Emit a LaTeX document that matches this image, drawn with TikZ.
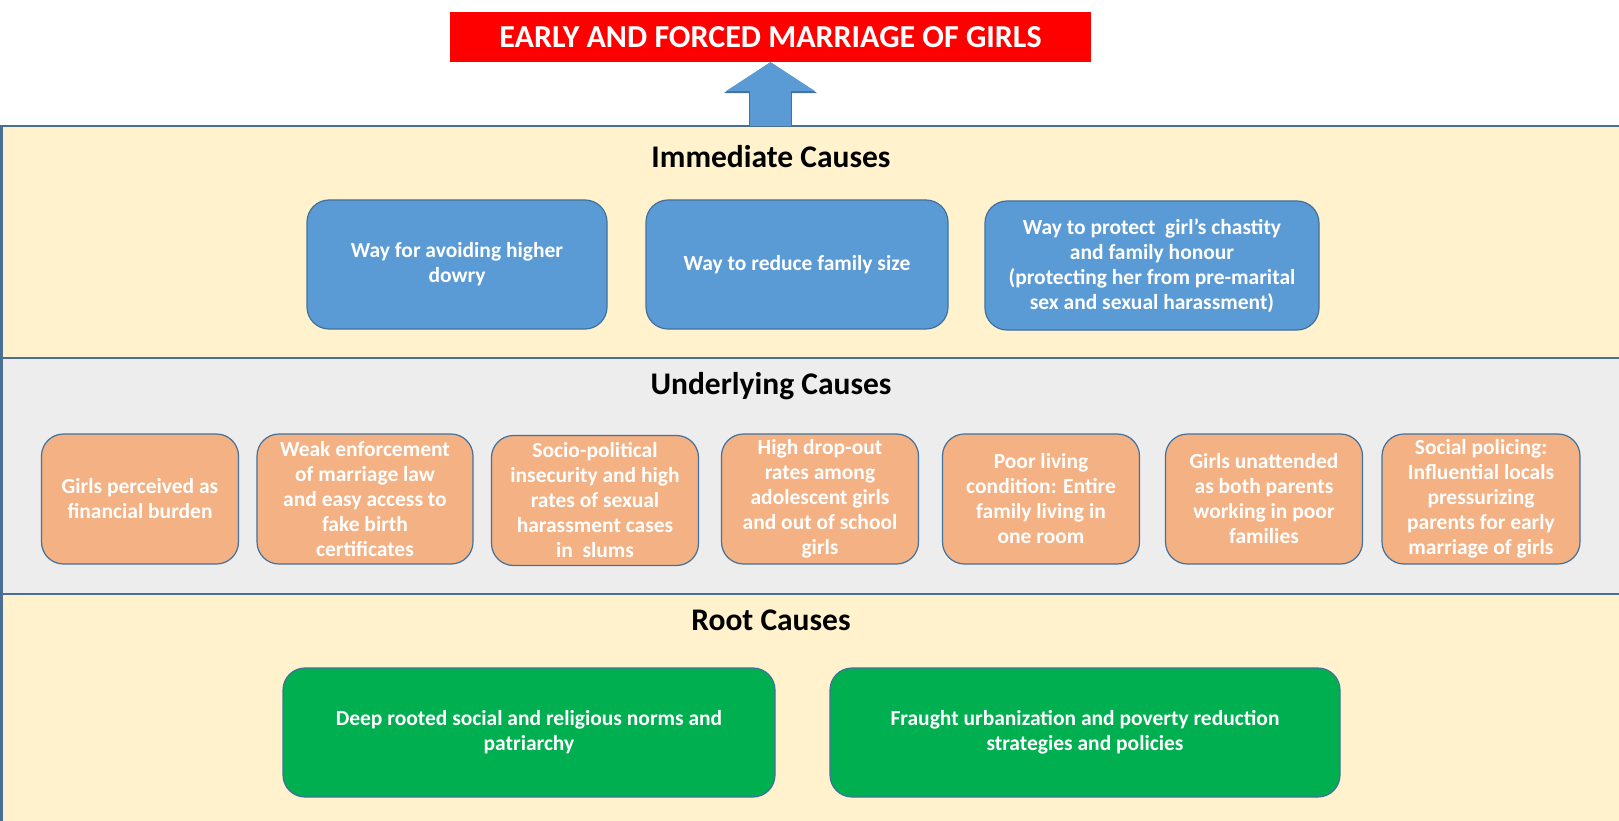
\documentclass[tikz,border=0pt]{standalone}
\usepackage{fontspec}
\setmainfont{Carlito}
\usepackage{xcolor}
\usepackage{tikz}
\usetikzlibrary{positioning, arrows.meta, calc}

\definecolor{paleyellow}{HTML}{FFF2CC}
\definecolor{palegray}{HTML}{EDEDED}
\definecolor{bandline}{HTML}{4A6F96}
\definecolor{boxblue}{HTML}{5B9BD5}
\definecolor{boxline}{HTML}{41719C}
\definecolor{boxorange}{HTML}{F4B183}
\definecolor{boxgreen}{HTML}{00B050}

\begin{document}
\begin{tikzpicture}[
        x=1pt, y=-1pt,
        band/.style={draw=bandline, line width=2.5pt, minimum width=1640pt, inner sep=0pt, outer sep=0pt},
        heading/.style={font=\fontsize{31.5}{36}\selectfont\bfseries},
        goalbox/.style={fill=red, text=white, minimum width=641pt, minimum height=50pt, font=\fontsize{32}{36}\selectfont\bfseries},
        cause/.style={rectangle, rounded corners=22pt, draw=boxline, line width=1.2pt, text=white, align=center, inner sep=2pt, font=\fontsize{21.5}{25}\selectfont\bfseries},
        immediate/.style={cause, fill=boxblue, minimum height=129pt},
        underlying/.style={cause, fill=boxorange, minimum height=130pt},
        root/.style={cause, fill=boxgreen, minimum height=129pt},
        uparrow/.style={draw=boxblue, line width=41pt,
            preaction={draw=boxline, line width=43pt, -{Triangle[width=92pt, length=31pt]}},
            -{Triangle[width=88pt, length=29pt]}}
    ]
    \useasboundingbox (0,0) rectangle (1619,821);

    % ==========================================
    % Bands
    % ==========================================
    \node[band, fill=paleyellow, minimum height=232pt] (immband) at (821.5, 242) {};
    \node[band, fill=palegray, minimum height=236pt] (undband) at (821.5, 476) {};
    \node[band, fill=paleyellow, minimum height=236pt] (rootband) at (821.5, 712) {};

    % ==========================================
    % Goal and arrow
    % ==========================================
    \node[goalbox] (goal) at (770.5, 37) {EARLY AND FORCED MARRIAGE OF GIRLS};
    \draw[uparrow] (goal.south |- immband.north) -- (goal.south);

    % ==========================================
    % Immediate Causes
    % ==========================================
    \node[heading] (immhead) at (771, 157) {Immediate Causes};
    \node[immediate, minimum width=300pt] (imm1) at (457, 264.5) {Way for avoiding higher\\dowry};
    \node[immediate, minimum width=302pt] (imm2) at (797, 264.5) {Way to reduce family size};
    \node[immediate, minimum width=334pt] (imm3) at (1152, 265.5) {Way to protect\ \ girl’s chastity\\and family honour\\(protecting her from pre-marital\\sex and sexual harassment)};

    % ==========================================
    % Underlying Causes
    % ==========================================
    \node[heading] (undhead) at (771, 386) {Underlying Causes};
    \node[underlying, minimum width=197pt] (und1) at (140, 499) {Girls perceived as\\financial burden};
    \node[underlying, minimum width=216pt] (und2) at (365, 499) {Weak enforcement\\of marriage law\\and easy access to\\fake birth\\certificates};
    \node[underlying, minimum width=207pt] (und3) at (595, 500.5) {Socio-political\\insecurity and high\\rates of sexual\\harassment cases\\in\ \ slums};
    \node[underlying, minimum width=197pt] (und4) at (820, 499) {High drop-out\\rates among\\adolescent girls\\and out of school\\girls};
    \node[underlying, minimum width=197pt] (und5) at (1041, 499) {Poor living\\condition: Entire\\family living in\\one room};
    \node[underlying, minimum width=197pt] (und6) at (1264, 499) {Girls unattended\\as both parents\\working in poor\\families};
    \node[underlying, minimum width=198pt] (und7) at (1481, 499) {Social policing:\\Influential locals\\pressurizing\\parents for early\\marriage of girls};

    % ==========================================
    % Root Causes
    % ==========================================
    \node[heading] (roothead) at (771, 620.5) {Root Causes};
    \node[root, minimum width=492pt] (root1) at (529, 732.5) {Deep rooted social and religious norms and\\patriarchy};
    \node[root, minimum width=510pt] (root2) at (1085, 732.5) {Fraught urbanization and poverty reduction\\strategies and policies};

\end{tikzpicture}
\end{document}
